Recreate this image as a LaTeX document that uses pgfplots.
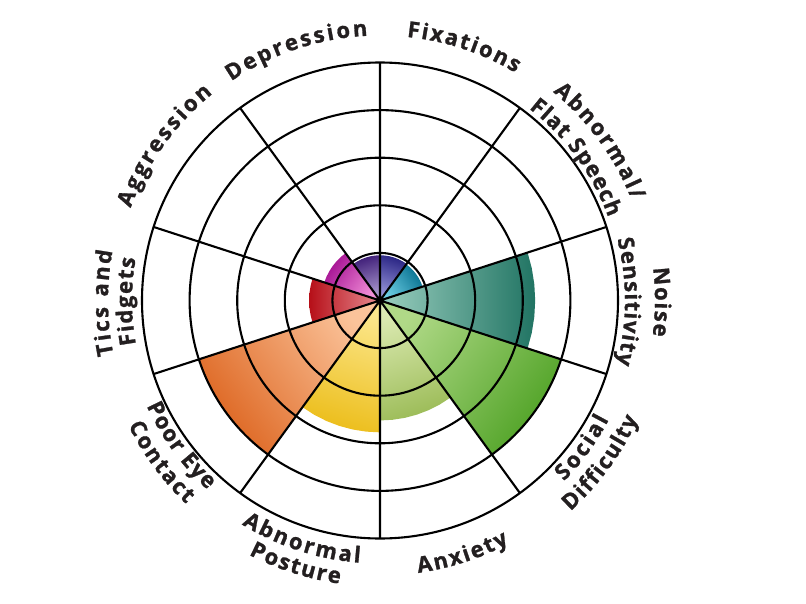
\documentclass[border=0pt]{standalone}
\usepackage{pgfplots}
\pgfplotsset{compat=1.18}
\usepgfplotslibrary{polar}
\usetikzlibrary{decorations.text}
\usepackage{fontspec}
\setmainfont{Open Sans}[BoldFeatures={FakeBold=1.2}]
\definecolor{labc}{HTML}{231F20}
\definecolor{fixO}{HTML}{2A2584}\definecolor{fixI}{HTML}{9A98DC}
\definecolor{spO}{HTML}{06708F}\definecolor{spI}{HTML}{6FD0E6}
\definecolor{noO}{HTML}{217463}\definecolor{noI}{HTML}{9BCFC0}
\definecolor{soO}{HTML}{4FA225}\definecolor{soI}{HTML}{B0D987}
\definecolor{anO}{HTML}{9CBC58}\definecolor{anI}{HTML}{DDEBB4}
\definecolor{poO}{HTML}{ECBE1C}\definecolor{poI}{HTML}{FCE78C}
\definecolor{eyO}{HTML}{DD6520}\definecolor{eyI}{HTML}{FBC39A}
\definecolor{tiO}{HTML}{B60F18}\definecolor{tiI}{HTML}{E88C92}
\definecolor{agO}{HTML}{A40F92}\definecolor{agI}{HTML}{F290D8}
\definecolor{deO}{HTML}{41207A}\definecolor{deI}{HTML}{AE9DD2}
\newcommand\lab{\fontsize{22pt}{26pt}\selectfont\bfseries\color{labc}}
\begin{document}
\begin{tikzpicture}
\useasboundingbox (0,0) rectangle (806pt,603pt);
\begin{polaraxis}[
  at={(380pt,302.5pt)}, anchor=center,
  scale only axis, width=476pt, height=476pt,
  ymin=0, ymax=5,
  xtick={18,54,90,126,162,198,234,270,306,342},
  ytick={1,2,3,4},
  xticklabel={}, yticklabel={},
  tick label style={opacity=0, text opacity=0},
  major tick length=0pt,
  grid=major,
  major grid style={draw=black, line width=2.1pt},
  separate axis lines,
  x axis line style={draw=black, line width=2.1pt},
  y axis line style={draw=none},
  axis on top,
]
% Fixations
\addplot[draw=none, top color=fixO, bottom color=fixI, shading angle=-18] coordinates {(0,0) (90,0.95) (84,0.95) (78,0.95) (72,0.95) (66,0.95) (60,0.95) (54,0.95)};
% Abnormal/Flat Speech
\addplot[draw=none, top color=spO, bottom color=spI, shading angle=-54] coordinates {(0,0) (54,0.94) (48,0.94) (42,0.94) (36,0.94) (30,0.94) (24,0.94) (18,0.94)};
% Noise Sensitivity
\addplot[draw=none, top color=noO, bottom color=noI, shading angle=-90] coordinates {(0,0) (18,3.26) (12,3.26) (6,3.26) (0,3.26) (-6,3.26) (-12,3.26) (-18,3.26)};
% Social Difficulty
\addplot[draw=none, top color=soO, bottom color=soI, shading angle=-126] coordinates {(0,0) (-18,4.0) (-24,4.0) (-30,4.0) (-36,4.0) (-42,4.0) (-48,4.0) (-54,4.0)};
% Anxiety
\addplot[draw=none, top color=anO, bottom color=anI, shading angle=-162] coordinates {(0,0) (-54,2.52) (-60,2.52) (-66,2.52) (-72,2.52) (-78,2.52) (-84,2.52) (-90,2.52)};
% Abnormal Posture
\addplot[draw=none, top color=poO, bottom color=poI, shading angle=162] coordinates {(0,0) (-90,2.77) (-96,2.77) (-102,2.77) (-108,2.77) (-114,2.77) (-120,2.77) (-126,2.77)};
% Poor Eye Contact
\addplot[draw=none, top color=eyO, bottom color=eyI, shading angle=126] coordinates {(0,0) (-126,4.0) (-132,4.0) (-138,4.0) (-144,4.0) (-150,4.0) (-156,4.0) (-162,4.0)};
% Tics and Fidgets
\addplot[draw=none, top color=tiO, bottom color=tiI, shading angle=90] coordinates {(0,0) (198,1.49) (192,1.49) (186,1.49) (180,1.49) (174,1.49) (168,1.49) (162,1.49)};
% Aggression
\addplot[draw=none, top color=agO, bottom color=agI, shading angle=54] coordinates {(0,0) (162,1.23) (156,1.23) (150,1.23) (144,1.23) (138,1.23) (132,1.23) (126,1.23)};
% Depression
\addplot[draw=none, top color=deO, bottom color=deI, shading angle=18] coordinates {(0,0) (126,0.95) (120,0.95) (114,0.95) (108,0.95) (102,0.95) (96,0.95) (90,0.95)};
% centre dot
\addplot[only marks, mark=*, mark size=3pt, black] coordinates {(0,0)};
\end{polaraxis}
\begin{scope}[shift={(380pt,302.5pt)}]
\path[decorate, decoration={text along path, text={|\lab|Fixations}, text align={fit to path}}] (84.2:265pt) arc[start angle=84.2, end angle=59.2, radius=265pt];
\path[decorate, decoration={text along path, text={|\lab|Depression}, text align={fit to path}}] (124.15:265pt) arc[start angle=124.15, end angle=92.65, radius=265pt];
\path[decorate, decoration={text along path, text={|\lab|Aggression}, text align={fit to path}}] (159.65:266pt) arc[start angle=159.65, end angle=128.95, radius=266pt];
\path[decorate, decoration={text along path, text={|\lab|Tics and}, text align={fit to path}}] (191.5:272pt) arc[start angle=191.5, end angle=169.5, radius=272pt];
\path[decorate, decoration={text along path, text={|\lab|Fidgets}, text align={fit to path}}] (190.2:248pt) arc[start angle=190.2, end angle=170.2, radius=248pt];
\path[decorate, decoration={text along path, text={|\lab|Noise}, text align={fit to path}}] (6.8:275pt) arc[start angle=6.8, end angle=-7.4, radius=275pt];
\path[decorate, decoration={text along path, text={|\lab|Sensitivity}, text align={fit to path}}] (14.5:245pt) arc[start angle=14.5, end angle=-15, radius=245pt];
\path[decorate, decoration={text along path, text={|\lab|Abnormal/}, text align={fit to path}}] (50.3:271pt) arc[start angle=50.3, end angle=21.7, radius=271pt];
\path[decorate, decoration={text along path, text={|\lab|Flat Speech}, text align={fit to path}}] (52.2:243pt) arc[start angle=52.2, end angle=20, radius=243pt];
\path[decorate, decoration={text along path, text={|\lab|Social}, text align={fit to path}}] (-44.5:258pt) arc[start angle=-44.5, end angle=-27.5, radius=258pt];
\path[decorate, decoration={text along path, text={|\lab|Difficulty}, text align={fit to path}}] (-47.9:284pt) arc[start angle=-47.9, end angle=-24.7, radius=284pt];
\path[decorate, decoration={text along path, text={|\lab|Anxiety}, text align={fit to path}}] (-82:275pt) arc[start angle=-82, end angle=-62, radius=275pt];
\path[decorate, decoration={text along path, text={|\lab|Abnormal}, text align={fit to path}}] (-121.65:263pt) arc[start angle=-121.65, end angle=-94.35, radius=263pt];
\path[decorate, decoration={text along path, text={|\lab|Posture}, text align={fit to path}}] (-117.3:286pt) arc[start angle=-117.3, end angle=-98.1, radius=286pt];
\path[decorate, decoration={text along path, text={|\lab|Poor Eye}, text align={fit to path}}] (-155.7:256pt) arc[start angle=-155.7, end angle=-132.3, radius=256pt];
\path[decorate, decoration={text along path, text={|\lab|Contact}, text align={fit to path}}] (-153.6:281pt) arc[start angle=-153.6, end angle=-133.6, radius=281pt];
\end{scope}
\end{tikzpicture}
\end{document}
